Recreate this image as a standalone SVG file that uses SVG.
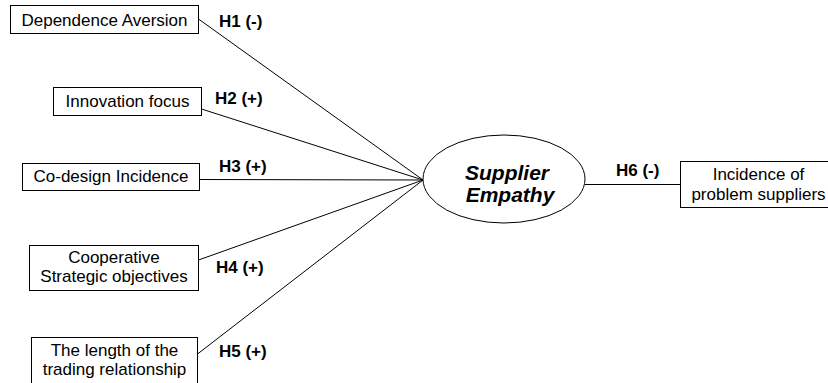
<svg xmlns="http://www.w3.org/2000/svg" width="828" height="383" viewBox="0 0 828 383">
<style>
.box{fill:#fff;stroke:#000;stroke-width:1}
.t{font-family:"Liberation Sans",Arial,sans-serif;font-size:17px;fill:#000;text-anchor:middle}
.h{font-family:"Liberation Sans",Arial,sans-serif;font-size:17px;font-weight:bold;fill:#000}
.c{font-family:"Liberation Sans",Arial,sans-serif;font-size:21px;font-weight:bold;font-style:italic;fill:#000;text-anchor:middle}
.ln{stroke:#000;stroke-width:1;fill:none}
</style>
<rect width="828" height="383" fill="#fff"/>
<g id="connectors">
<line class="ln" x1="198.5" y1="19" x2="423" y2="180"/>
<line class="ln" x1="201.5" y1="109" x2="423" y2="180"/>
<line class="ln" x1="199.5" y1="179.5" x2="423" y2="180"/>
<line class="ln" x1="198.5" y1="260" x2="423" y2="180"/>
<line class="ln" x1="197.5" y1="354" x2="423" y2="180"/>
<line class="ln" x1="585" y1="184.5" x2="680" y2="184.5"/>
<text class="h" x="219" y="27">H1 (-)</text>
<text class="h" x="215" y="104">H2 (+)</text>
<text class="h" x="219" y="172">H3 (+)</text>
<text class="h" x="216" y="273">H4 (+)</text>
<text class="h" x="219" y="357">H5 (+)</text>
<text class="h" x="616" y="176">H6 (-)</text>
</g>
<g id="dependence-aversion">
<rect class="box" x="10.5" y="5.5" width="188" height="28"/>
<text class="t" x="104.5" y="26">Dependence Aversion</text>
</g>
<g id="innovation-focus">
<rect class="box" x="53.5" y="87.5" width="148" height="28"/>
<text class="t" x="127.5" y="107">Innovation focus</text>
</g>
<g id="co-design-incidence">
<rect class="box" x="22.5" y="163.5" width="177" height="27"/>
<text class="t" x="111" y="182">Co-design Incidence</text>
</g>
<g id="cooperative-strategic-objectives">
<rect class="box" x="29.5" y="245.5" width="169" height="45"/>
<text class="t" x="114" y="263">Cooperative</text>
<text class="t" x="114" y="282">Strategic objectives</text>
</g>
<g id="length-trading-relationship">
<rect class="box" x="31.5" y="337.5" width="166" height="50"/>
<text class="t" x="114.5" y="356">The length of the</text>
<text class="t" x="114.5" y="375">trading relationship</text>
</g>
<g id="supplier-empathy">
<ellipse class="box" cx="504" cy="179" rx="81" ry="44"/>
<text class="c" x="507" y="180">Supplier</text>
<text class="c" x="510" y="202">Empathy</text>
</g>
<g id="incidence-problem-suppliers">
<rect class="box" x="680.5" y="161.5" width="156" height="46"/>
<text class="t" x="758.5" y="180">Incidence of</text>
<text class="t" x="758.5" y="200">problem suppliers</text>
</g>
</svg>
